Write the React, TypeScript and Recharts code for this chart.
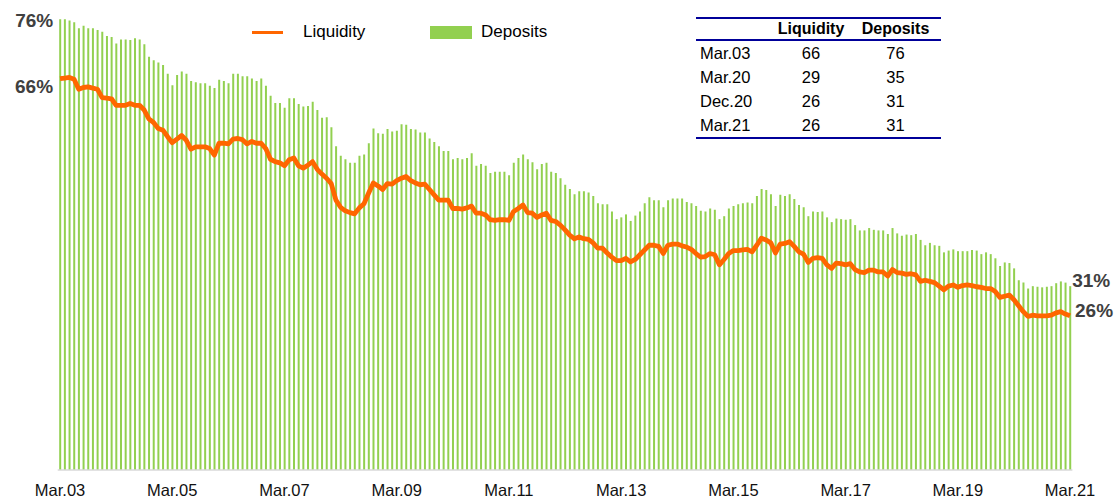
import { ComposedChart, Bar, Line, XAxis, YAxis, LabelList } from 'recharts';

const monthNames = ['Jan', 'Feb', 'Mar', 'Apr', 'May', 'Jun', 'Jul', 'Aug', 'Sep', 'Oct', 'Nov', 'Dec'];

// monthly, Mar.03 .. Mar.21 (217 points)
const months: string[] = [];
for (let y = 2003, m = 2; months.length < 217; ) {
  months.push(`${monthNames[m]}.${String(y % 100).padStart(2, '0')}`);
  m++;
  if (m === 12) {
    m = 0;
    y++;
  }
}

const deposits = [
  76.0, 76.0, 75.8, 75.5, 74.5, 74.9, 74.5, 74.5, 74.2, 73.9, 73.2, 73.0,
  71.9, 72.6, 72.6, 72.5, 72.8, 72.6, 71.8, 69.7, 69.1, 68.7, 68.3, 66.8,
  64.9, 66.6, 67.2, 66.8, 65.6, 65.4, 65.2, 65.2, 64.8, 64.4, 65.8, 65.6,
  65.2, 66.8, 66.8, 66.4, 66.4, 66.0, 65.6, 66.0, 64.8, 63.1, 61.9, 61.9,
  61.1, 62.7, 62.7, 61.7, 61.3, 61.4, 62.1, 60.7, 59.4, 59.5, 57.8, 54.6,
  53.0, 52.4, 51.8, 51.8, 53.0, 53.2, 55.1, 57.6, 56.8, 56.7, 57.5, 57.1,
  57.2, 58.3, 58.2, 57.5, 57.4, 56.9, 56.9, 55.9, 55.3, 54.6, 53.8, 53.8,
  52.4, 52.6, 52.4, 52.6, 53.4, 51.3, 51.6, 51.3, 50.1, 50.3, 50.3, 50.3,
  49.7, 51.8, 52.6, 53.2, 52.4, 51.9, 50.7, 51.6, 51.8, 50.3, 50.1, 49.2,
  48.1, 47.4, 46.5, 47.0, 47.0, 46.8, 46.2, 45.0, 44.8, 44.8, 43.6, 42.3,
  42.6, 43.1, 42.0, 42.9, 43.6, 45.0, 46.0, 45.5, 45.5, 44.3, 45.5, 45.8,
  45.8, 45.8, 45.2, 45.0, 44.5, 43.7, 43.6, 44.1, 43.9, 42.3, 42.8, 44.1,
  44.5, 44.8, 45.0, 45.1, 45.0, 46.2, 47.4, 47.2, 46.5, 44.5, 46.4, 46.2,
  46.5, 45.7, 44.7, 44.3, 42.8, 43.6, 43.5, 43.6, 42.6, 41.8, 42.4, 42.3,
  42.2, 42.3, 41.3, 40.4, 40.4, 40.8, 40.5, 40.4, 40.4, 39.8, 40.8, 39.9,
  39.5, 39.7, 39.6, 39.8, 38.8, 37.9, 38.3, 37.9, 37.8, 36.7, 37.0, 37.2,
  36.9, 36.9, 36.9, 37.1, 37.0, 36.4, 36.7, 36.4, 35.7, 34.4, 35.0, 34.9,
  34.0, 32.0, 31.6, 30.6, 31.0, 30.9, 30.8, 30.9, 31.0, 31.5, 31.8, 31.6,
  31.0,
];

const liquidity = [
  66.0, 66.1, 66.2, 65.9, 64.2, 64.5, 64.6, 64.4, 64.2, 62.8, 62.7, 62.6,
  61.5, 61.5, 61.5, 61.8, 61.5, 61.5, 60.7, 59.2, 58.6, 57.6, 57.3, 56.2,
  55.2, 55.8, 56.4, 55.6, 54.1, 54.5, 54.5, 54.5, 54.2, 53.1, 55.1, 55.1,
  55.0, 55.8, 55.9, 55.7, 55.0, 55.4, 55.1, 55.1, 54.2, 52.4, 52.0, 51.8,
  51.3, 52.3, 52.6, 51.3, 50.9, 51.4, 52.0, 50.7, 49.9, 49.2, 48.3, 45.5,
  44.3, 43.7, 43.4, 43.2, 44.2, 44.9, 46.7, 48.4, 47.9, 47.3, 48.3, 48.2,
  48.8, 49.2, 49.5, 48.8, 48.4, 48.1, 48.2, 47.3, 46.4, 45.5, 45.5, 45.5,
  44.1, 44.1, 44.0, 44.2, 44.5, 43.3, 43.3, 43.0, 42.2, 42.1, 42.2, 42.2,
  42.1, 43.6, 44.1, 44.7, 43.4, 43.3, 42.6, 43.0, 43.3, 42.1, 41.9, 41.3,
  40.5, 39.6, 39.0, 39.3, 39.0, 38.9, 38.3, 37.4, 37.4, 36.6, 35.9, 35.3,
  35.3, 35.7, 35.1, 35.5, 36.3, 37.1, 37.9, 37.9, 37.7, 36.5, 37.9, 38.1,
  38.1, 37.8, 37.6, 37.2, 36.5, 35.9, 36.0, 36.5, 36.3, 34.6, 35.5, 36.5,
  37.0, 37.0, 37.1, 37.2, 36.8, 37.9, 39.1, 38.8, 38.3, 36.6, 38.1, 38.2,
  38.5, 37.7, 36.8, 36.4, 35.0, 35.7, 35.8, 35.7, 34.6, 34.0, 34.9, 34.8,
  34.6, 34.8, 33.8, 33.4, 33.3, 33.7, 33.7, 33.4, 33.4, 32.7, 33.8, 33.3,
  33.2, 33.0, 33.1, 32.9, 31.8, 32.0, 31.8, 31.6, 31.0, 30.4, 31.0, 31.2,
  30.8, 31.1, 31.2, 31.1, 30.9, 30.8, 30.6, 30.6, 30.1, 29.1, 29.3, 29.5,
  28.7, 27.7, 26.7, 25.9, 26.1, 26.0, 26.0, 26.0, 26.1, 26.5, 26.7, 26.3,
  26.0,
];

const tableRows = ['Mar.03', 'Mar.20', 'Dec.20', 'Mar.21'];
const tableLiquidity = [66, 29, 26, 26];
const tableDeposits = [76, 35, 31, 31];

const chartData = months.map((month, i) => ({
  month,
  liquidity: liquidity[i],
  deposits: deposits[i],
}));

const lastIndex = chartData.length - 1;
const font = 'Arial, "Liberation Sans", sans-serif';
const orange = '#FF6600';
const green = '#92D050';
const navy = '#000099';

const pctStyle = { fontSize: 19, fontWeight: 700, fill: '#404040', fontFamily: font };

const renderDepositLabel = (props: any) => {
  const { x, y, width, value, index } = props;
  if (index === 0) {
    return (
      <text x={x - 6} y={y + 1} textAnchor="end" dominantBaseline="central" style={pctStyle}>
        {Math.round(value)}%
      </text>
    );
  }
  if (index === lastIndex) {
    return (
      <text x={x + width + 1} y={y - 6} textAnchor="start" dominantBaseline="central" style={pctStyle}>
        {Math.round(value)}%
      </text>
    );
  }
  return null;
};

const renderLiquidityLabel = (props: any) => {
  const { x, y, value, index } = props;
  if (index === 0) {
    return (
      <text x={x - 7} y={y + 7.5} textAnchor="end" dominantBaseline="central" style={pctStyle}>
        {Math.round(value)}%
      </text>
    );
  }
  if (index === lastIndex) {
    return (
      <text x={x + 5} y={y - 5} textAnchor="start" dominantBaseline="central" style={pctStyle}>
        {Math.round(value)}%
      </text>
    );
  }
  return null;
};

const cell = { padding: 0, height: 24, fontSize: 16.5, textAlign: 'center' as const };

export default function App() {
  return (
    <div style={{ position: 'relative', width: 1115, height: 499, fontFamily: font, background: '#fff' }}>
      <style>{'body{margin:0;overflow:hidden;}'}</style>
      <ComposedChart
        width={1115}
        height={499}
        data={chartData}
        margin={{ top: 19.3, right: 42.6, bottom: 0, left: 57.7 }}
        barCategoryGap="32%"
        style={{ fontFamily: font }}
      >
        <XAxis
          dataKey="month"
          interval={23}
          height={29}
          tickLine={false}
          tickMargin={8}
          axisLine={{ stroke: '#d9d9d9', strokeWidth: 1.5 }}
          tick={{ fontSize: 16.5, fill: '#111', fontFamily: font }}
        />
        <YAxis hide domain={[0, 76]} />
        <Bar dataKey="deposits" fill={green} isAnimationActive={false}>
          <LabelList dataKey="deposits" content={renderDepositLabel} />
        </Bar>
        <Line
          type="linear"
          dataKey="liquidity"
          stroke={orange}
          strokeWidth={4.8}
          strokeLinejoin="round"
          dot={false}
          activeDot={false}
          isAnimationActive={false}
        >
          <LabelList dataKey="liquidity" content={renderLiquidityLabel} />
        </Line>
      </ComposedChart>

      {/* legend */}
      <div style={{ position: 'absolute', left: 252, top: 30.5, width: 31, height: 3, background: orange }} />
      <div style={{ position: 'absolute', left: 303, top: 22, fontSize: 17, lineHeight: '20px', color: '#000' }}>
        Liquidity
      </div>
      <div style={{ position: 'absolute', left: 430, top: 26, width: 42, height: 13, background: green }} />
      <div style={{ position: 'absolute', left: 481, top: 22, fontSize: 17, lineHeight: '20px', color: '#000' }}>
        Deposits
      </div>

      {/* summary table */}
      <table
        style={{
          position: 'absolute',
          left: 696,
          top: 17,
          width: 245,
          borderCollapse: 'collapse',
          tableLayout: 'fixed',
          color: '#000',
          fontFamily: font,
          borderTop: `2px solid ${navy}`,
          borderBottom: `2px solid ${navy}`,
        }}
      >
        <colgroup>
          <col style={{ width: 76 }} />
          <col style={{ width: 78 }} />
          <col style={{ width: 91 }} />
        </colgroup>
        <thead>
          <tr style={{ height: 22, borderBottom: `2px solid ${navy}` }}>
            <th style={{ padding: 0 }} />
            <th style={{ padding: 0, fontSize: 16, fontWeight: 700, textAlign: 'center' }}>Liquidity</th>
            <th style={{ padding: 0, fontSize: 16, fontWeight: 700, textAlign: 'center' }}>Deposits</th>
          </tr>
        </thead>
        <tbody>
          {tableRows.map((r, i) => (
            <tr key={r} style={{ height: 24 }}>
              <td style={{ ...cell, textAlign: 'left', paddingLeft: 4 }}>{r}</td>
              <td style={cell}>{tableLiquidity[i]}</td>
              <td style={cell}>{tableDeposits[i]}</td>
            </tr>
          ))}
        </tbody>
      </table>
    </div>
  );
}
